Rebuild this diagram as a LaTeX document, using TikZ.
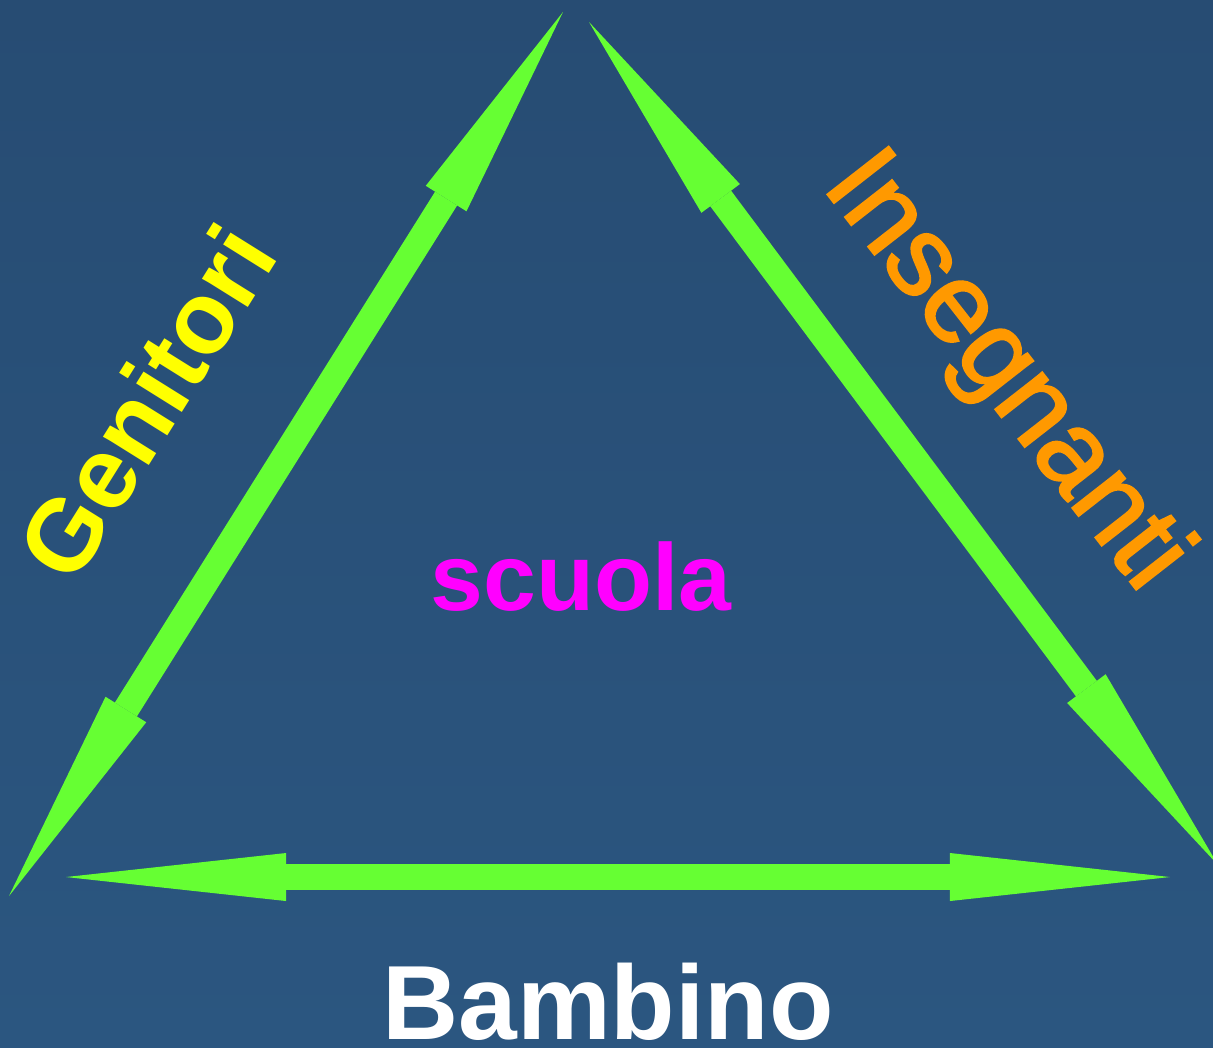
\documentclass[tikz,border=0pt]{standalone}
\usepackage{fontspec}
\setmainfont{Liberation Sans}
\newfontfamily\semiboldsans[FakeBold=2]{Liberation Sans}
\usetikzlibrary{arrows.meta}
\definecolor{bgtop}{HTML}{274C73}
\definecolor{bgmid}{HTML}{33639A}
\definecolor{bgbot}{HTML}{2B5680}
\definecolor{arrowgreen}{HTML}{66FF33}
\definecolor{labyellow}{HTML}{FFFF00}
\definecolor{laborange}{HTML}{FF9900}
\definecolor{labmagenta}{HTML}{FF00FF}
\tikzset{
  bigarrow/.style={draw=arrowgreen, line width=2.6mm,
    {Triangle[length=22mm,width=4.8mm,line width=0pt]}-{Triangle[length=22mm,width=4.8mm,line width=0pt]}},
  lab/.style={inner sep=0pt, outer sep=0pt}
}
\begin{document}
\begin{tikzpicture}[x=0.01cm, y=-0.01cm]
  \useasboundingbox (0,0) rectangle (1213,1047);
  \clip (0,0) rectangle (1213,1047);
  \shade[top color=bgtop, middle color=bgmid, bottom color=bgbot] (0,0) rectangle (1213,1047);
  % end points
  \coordinate (gt) at (563,12);
  \coordinate (gb) at (9,896);
  \coordinate (it) at (589,22);
  \coordinate (ib) at (1218,865);
  \coordinate (bl) at (66,877);
  \coordinate (br) at (1170,877);
  % arrows
  \draw[bigarrow] (gb) -- (gt);
  \draw[bigarrow] (it) -- (ib);
  \draw[bigarrow] (bl) -- (br);
  % labels
  \node[lab, text=labyellow, rotate=58, font=\fontsize{29pt}{34pt}\selectfont\bfseries] (genitori) at (146,402) {Genitori};
  \node[lab, text=laborange, rotate=-52, font=\fontsize{32pt}{38pt}\semiboldsans] (insegnanti) at (1004,373) {Insegnanti};
  \node[lab, text=labmagenta, anchor=base, font=\fontsize{27pt}{32pt}\selectfont\bfseries] (scuola) at (581,610) {scuola};
  \node[lab, text=white, anchor=base, font=\fontsize{30pt}{36pt}\selectfont\bfseries] (bambino) at (608,1039) {Bambino};
\end{tikzpicture}
\end{document}
